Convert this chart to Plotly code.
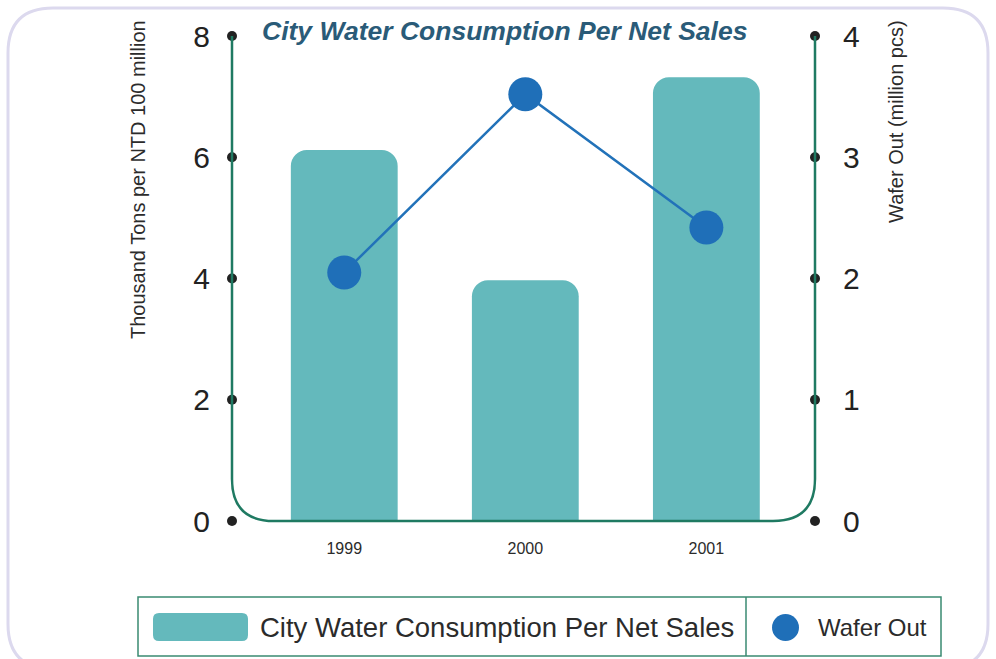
import plotly.graph_objects as go

years = ["1999", "2000", "2001"]
water = [6.12, 3.97, 7.32]
wafer = [2.05, 3.52, 2.42]
left_ticks = [0, 2, 4, 6, 8]
right_ticks = [0, 1, 2, 3, 4]

title_text = "City Water Consumption Per Net Sales"
left_title = "Thousand Tons per NTD 100 million"
right_title = "Wafer Out (million pcs)"
bar_name = "City Water Consumption Per Net Sales"
line_name = "Wafer Out"

W, H = 996, 659
L, R, T, B = 232, 815, 36, 521
XMIN, XMAX = -0.62, 2.6

def px(x):
    return (x - L) / (R - L)

def py(y):
    return (B - y) / (B - T)

def P(x, y):
    return f"{px(x):.5f},{py(y):.5f}"

BAR_COLOR = "#64b9bc"
LINE_COLOR = "#2272b9"
FRAME_COLOR = "#1f7a62"
DOT_COLOR = "#222222"
TEXT_COLOR = "#2b2b2b"

xs = list(range(len(years)))

fig = go.Figure()
fig.add_trace(go.Bar(
    x=xs, y=water, name=bar_name, width=0.59,
    marker=dict(color=BAR_COLOR, cornerradius=16, line=dict(width=0)),
    showlegend=False, yaxis="y"))
fig.add_trace(go.Scatter(
    x=xs, y=wafer, name=line_name, mode="lines+markers",
    line=dict(color=LINE_COLOR, width=2.5),
    marker=dict(color="#1f6fb8", size=34),
    showlegend=False, yaxis="y2", cliponaxis=False))
# tick dots on axes
fig.add_trace(go.Scatter(
    x=[XMIN] * len(left_ticks), y=left_ticks, mode="markers",
    marker=dict(color=DOT_COLOR, size=10), showlegend=False,
    yaxis="y", cliponaxis=False, hoverinfo="skip"))
fig.add_trace(go.Scatter(
    x=[XMAX] * len(right_ticks), y=right_ticks, mode="markers",
    marker=dict(color=DOT_COLOR, size=10), showlegend=False,
    yaxis="y2", cliponaxis=False, hoverinfo="skip"))

shapes = []
# outer rounded frame (bottom edge lies just below the visible page)
r = 45
ob = 669
outer = (f"M{P(8, ob - r)} L{P(8, 8 + r)} Q{P(8, 8)} {P(8 + r, 8)} "
         f"L{P(988 - r, 8)} Q{P(988, 8)} {P(988, 8 + r)} "
         f"L{P(988, ob - r)} Q{P(988, ob)} {P(988 - r, ob)} "
         f"L{P(8 + r, ob)} Q{P(8, ob)} {P(8, ob - r)} Z")
shapes.append(dict(type="path", xref="paper", yref="paper", path=outer,
                   line=dict(color="#dcd9ee", width=3), layer="below"))
# axis frame with rounded bottom corners
rr = 42
frame = (f"M{P(L, T)} L{P(L, B - rr)} Q{P(L, B)} {P(L + rr, B)} "
         f"L{P(R - rr, B)} Q{P(R, B)} {P(R, B - rr)} L{P(R, T)}")
shapes.append(dict(type="path", xref="paper", yref="paper", path=frame,
                   line=dict(color=FRAME_COLOR, width=2.5), layer="above"))
# legend box
shapes.append(dict(type="rect", xref="paper", yref="paper",
                   x0=px(138), x1=px(941), y0=py(656), y1=py(597),
                   line=dict(color="#3a8a72", width=1.5)))
shapes.append(dict(type="line", xref="paper", yref="paper",
                   x0=px(746), x1=px(746), y0=py(656), y1=py(597),
                   line=dict(color="#3a8a72", width=1.5)))
# legend swatch (rounded rect)
sx0, sx1, sy0, sy1, sr = 153, 248, 613, 641, 6
sw = (f"M{P(sx0 + sr, sy0)} L{P(sx1 - sr, sy0)} Q{P(sx1, sy0)} {P(sx1, sy0 + sr)} "
      f"L{P(sx1, sy1 - sr)} Q{P(sx1, sy1)} {P(sx1 - sr, sy1)} "
      f"L{P(sx0 + sr, sy1)} Q{P(sx0, sy1)} {P(sx0, sy1 - sr)} "
      f"L{P(sx0, sy0 + sr)} Q{P(sx0, sy0)} {P(sx0 + sr, sy0)} Z")
shapes.append(dict(type="path", xref="paper", yref="paper", path=sw,
                   fillcolor=BAR_COLOR, line=dict(width=0)))
shapes.append(dict(type="circle", xref="paper", yref="paper",
                   x0=px(772), x1=px(799), y0=py(641), y1=py(614),
                   fillcolor="#1f6fb8", line=dict(width=0)))

annotations = [
    dict(text=title_text, xref="paper", yref="paper", x=px(504), y=py(31),
         xanchor="center", yanchor="middle", showarrow=False,
         font=dict(family="Liberation Sans", size=26.5, color="#2a5b78",
                   weight="bold", style="italic")),
    dict(text=left_title, xref="paper", yref="paper", x=px(138), y=py(180),
         xanchor="center", yanchor="middle", showarrow=False, textangle=-90,
         font=dict(family="Liberation Sans", size=20, color=TEXT_COLOR)),
    dict(text=right_title, xref="paper", yref="paper", x=px(896), y=py(122),
         xanchor="center", yanchor="middle", showarrow=False, textangle=-90,
         font=dict(family="Liberation Sans", size=20, color=TEXT_COLOR)),
    dict(text=bar_name, xref="paper", yref="paper", x=px(258), y=py(627),
         xanchor="left", yanchor="middle", showarrow=False,
         font=dict(family="Liberation Sans", size=27.5, color=TEXT_COLOR)),
    dict(text=line_name, xref="paper", yref="paper", x=px(816), y=py(627),
         xanchor="left", yanchor="middle", showarrow=False,
         font=dict(family="Liberation Sans", size=24, color=TEXT_COLOR)),
]

fig.update_layout(
    width=W, height=H, autosize=False,
    margin=dict(l=L, r=W - R, t=T, b=H - B, pad=0),
    paper_bgcolor="white", plot_bgcolor="white",
    showlegend=False,
    xaxis=dict(range=[XMIN, XMAX], tickvals=xs, ticktext=years,
               showgrid=False, zeroline=False, showline=False, ticks="",
               ticklabelstandoff=16,
               tickfont=dict(family="Liberation Sans", size=16, color=TEXT_COLOR)),
    yaxis=dict(range=[0, 8], tickvals=left_ticks, showgrid=False, zeroline=False,
               showline=False, ticks="", ticklabelstandoff=21,
               tickfont=dict(family="Liberation Sans", size=30, color=DOT_COLOR)),
    yaxis2=dict(range=[0, 4], tickvals=right_ticks, overlaying="y", side="right",
                showgrid=False, zeroline=False, showline=False, ticks="",
                ticklabelstandoff=27,
                tickfont=dict(family="Liberation Sans", size=30, color=DOT_COLOR)),
    shapes=shapes, annotations=annotations,
)

fig.write_html("out.html", config={"displayModeBar": False},
               post_script="document.body.style.margin='0px';")
